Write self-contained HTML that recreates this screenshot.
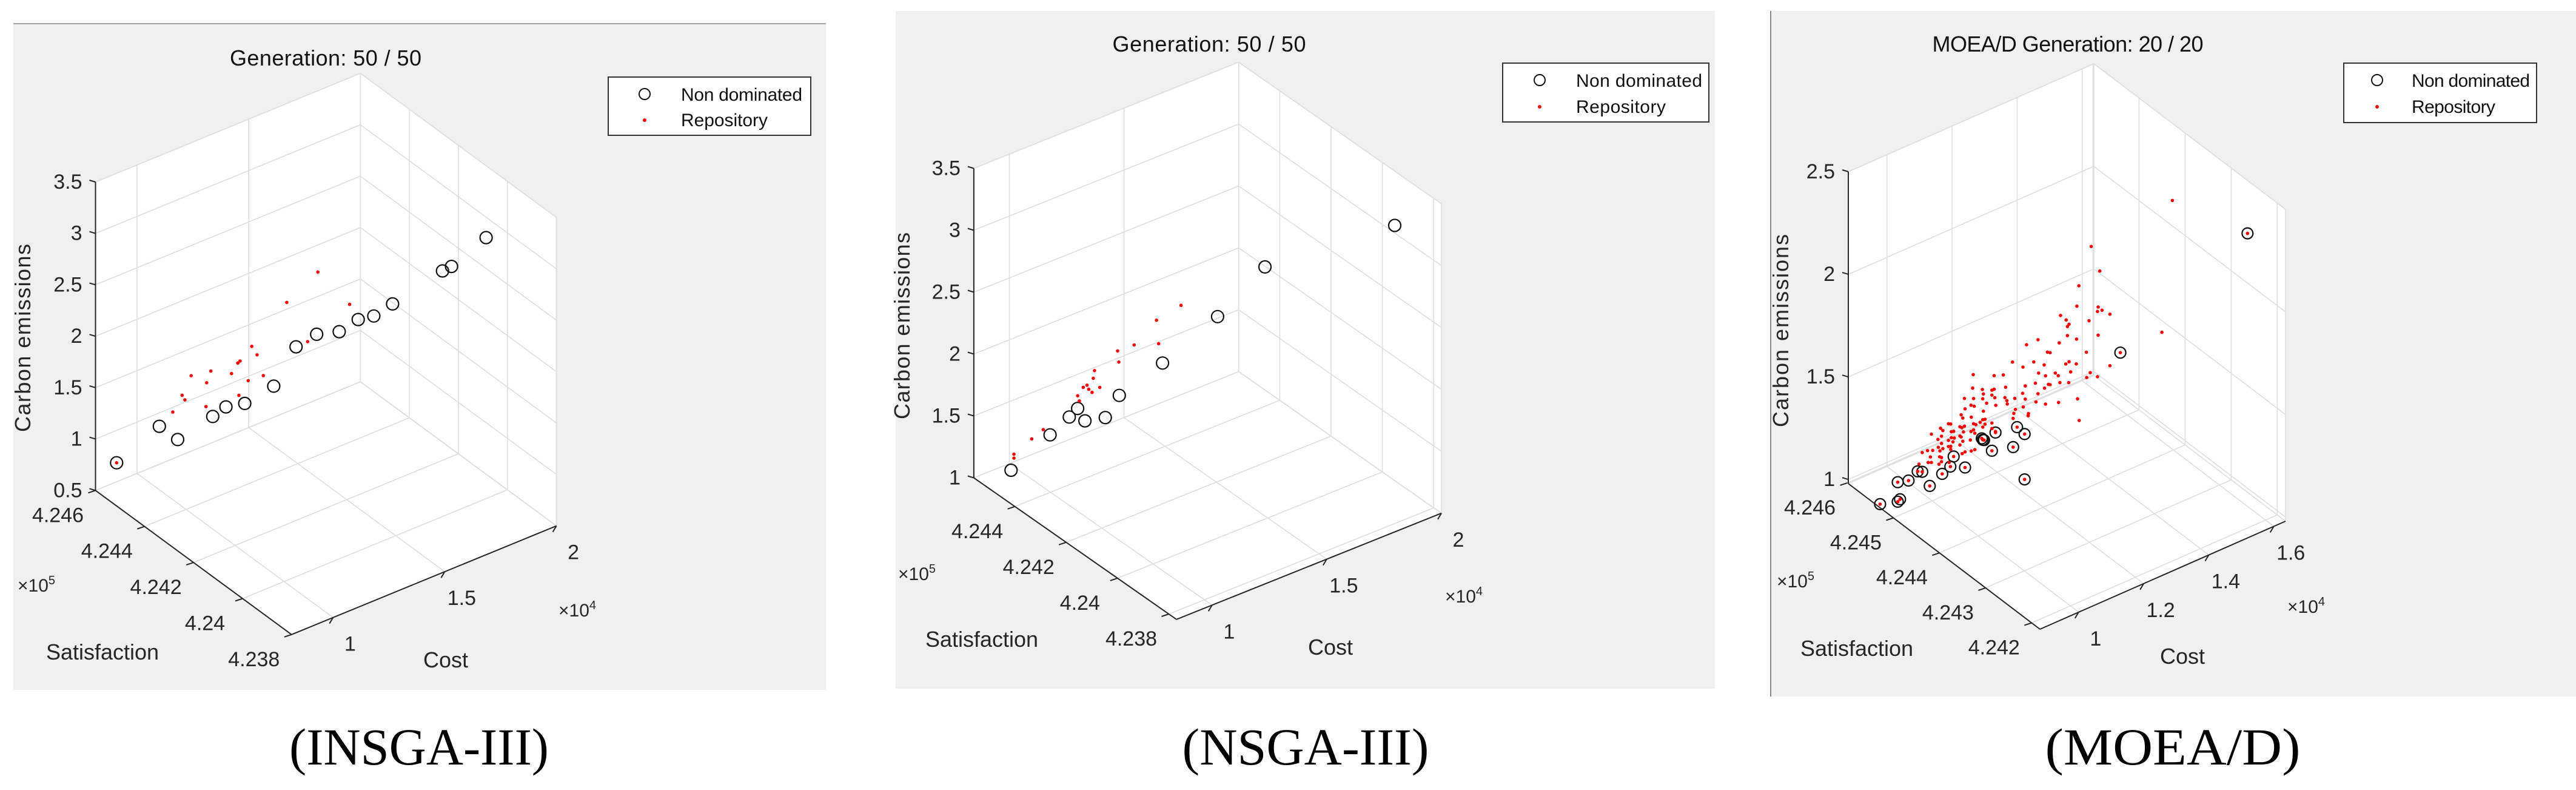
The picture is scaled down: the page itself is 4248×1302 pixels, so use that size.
<!DOCTYPE html>
<html><head><meta charset="utf-8"><style>
html,body{margin:0;padding:0;background:#fff;}
svg{display:block;font-family:"Liberation Sans",Arial,sans-serif;}
.cap{font-family:"Liberation Serif","Times New Roman",serif;}
</style></head><body>
<svg id="root" width="4248" height="1302" viewBox="0 0 4248 1302" xmlns="http://www.w3.org/2000/svg">
<rect x="0" y="0" width="4248" height="1302" fill="#fff"/>
<!-- panel 1 -->
<g>
<rect x="22" y="39" width="1340" height="1098" fill="#f0f0f0"/>
<line x1="22" y1="39" x2="1362" y2="39" stroke="#a0a0a0" stroke-width="2"/>
<text x="537" y="108" font-size="36" text-anchor="middle" textLength="316" fill="#111">Generation: 50 / 50</text>
<g id="plot1"></g>
<text transform="translate(50,557) rotate(-90)" font-size="36" text-anchor="middle" textLength="310" fill="#262626">Carbon emissions</text>
<text x="169" y="1087" font-size="36" text-anchor="middle" fill="#262626">Satisfaction</text>
<text x="735" y="1100" font-size="36" text-anchor="middle" fill="#262626">Cost</text>
<text x="60" y="975" font-size="30" text-anchor="middle" fill="#262626">×10<tspan font-size="20" dy="-12">5</tspan></text>
<text x="952" y="1016" font-size="30" text-anchor="middle" fill="#262626">×10<tspan font-size="20" dy="-12">4</tspan></text>
<g>
<rect x="1003" y="127" width="334" height="96" fill="#fff" stroke="#333" stroke-width="2"/>
<circle cx="1063" cy="155" r="9" fill="none" stroke="#111" stroke-width="2"/>
<circle cx="1063" cy="198" r="3" fill="#f00"/>
<text x="1123" y="166" font-size="30" textLength="200" fill="#111">Non dominated</text>
<text x="1123" y="208" font-size="30" textLength="143" fill="#111">Repository</text>
</g>
<text class="cap" x="691" y="1260" font-size="86" text-anchor="middle" textLength="428" lengthAdjust="spacingAndGlyphs" fill="#000">(INSGA-III)</text>
</g>
<!-- panel 2 -->
<g>
<rect x="1477" y="18" width="1351" height="1117" fill="#f0f0f0"/>
<text x="1994" y="85" font-size="36" text-anchor="middle" textLength="319" fill="#111">Generation: 50 / 50</text>
<g id="plot2"></g>
<text transform="translate(1500,537) rotate(-90)" font-size="36" text-anchor="middle" textLength="308" fill="#262626">Carbon emissions</text>
<text x="1619" y="1066" font-size="36" text-anchor="middle" fill="#262626">Satisfaction</text>
<text x="2194" y="1079" font-size="36" text-anchor="middle" fill="#262626">Cost</text>
<text x="1512" y="956" font-size="30" text-anchor="middle" fill="#262626">×10<tspan font-size="20" dy="-12">5</tspan></text>
<text x="2414" y="993" font-size="30" text-anchor="middle" fill="#262626">×10<tspan font-size="20" dy="-12">4</tspan></text>
<g>
<rect x="2478" y="104" width="340" height="97" fill="#fff" stroke="#333" stroke-width="2"/>
<circle cx="2539" cy="132" r="9" fill="none" stroke="#111" stroke-width="2"/>
<circle cx="2539" cy="176" r="3" fill="#f00"/>
<text x="2599" y="143" font-size="30" textLength="208" fill="#111">Non dominated</text>
<text x="2599" y="186" font-size="30" textLength="148" fill="#111">Repository</text>
</g>
<text class="cap" x="2153" y="1260" font-size="86" text-anchor="middle" textLength="407" lengthAdjust="spacingAndGlyphs" fill="#000">(NSGA-III)</text>
</g>
<!-- panel 3 -->
<g>
<rect x="2920" y="18" width="1328" height="1130" fill="#f0f0f0"/>
<line x1="2920" y1="18" x2="2920" y2="1148" stroke="#888" stroke-width="2"/>
<text x="3410" y="85" font-size="36" text-anchor="middle" textLength="447" fill="#111">MOEA/D Generation: 20 / 20</text>
<g id="plot3"></g>
<text transform="translate(2949,545) rotate(-90)" font-size="36" text-anchor="middle" textLength="318" fill="#262626">Carbon emissions</text>
<text x="3062" y="1081" font-size="36" text-anchor="middle" fill="#262626">Satisfaction</text>
<text x="3599" y="1094" font-size="36" text-anchor="middle" fill="#262626">Cost</text>
<text x="2961" y="968" font-size="30" text-anchor="middle" fill="#262626">×10<tspan font-size="20" dy="-12">5</tspan></text>
<text x="3803" y="1010" font-size="30" text-anchor="middle" fill="#262626">×10<tspan font-size="20" dy="-12">4</tspan></text>
<g>
<rect x="3865" y="104" width="318" height="98" fill="#fff" stroke="#333" stroke-width="2"/>
<circle cx="3920" cy="132" r="9" fill="none" stroke="#111" stroke-width="2"/>
<circle cx="3920" cy="176" r="3" fill="#f00"/>
<text x="3977" y="143" font-size="30" textLength="195" fill="#111">Non dominated</text>
<text x="3977" y="186" font-size="30" textLength="138" fill="#111">Repository</text>
</g>
<text class="cap" x="3583" y="1260" font-size="86" text-anchor="middle" textLength="421" lengthAdjust="spacingAndGlyphs" fill="#000">(MOEA/D)</text>
</g>
</svg>
<script>
// ---------- Panel 1 (INSGA-III) data ----------
const p1NdCost = [0.868,0.978,1.025,1.116,1.150,1.198,1.273,1.330,1.383,1.441,1.490,1.530,1.578,1.707,1.730,1.819];
const p1NdSat = [4.24563,4.24489,4.24457,4.24397,4.24374,4.24341,4.24291,4.24252,4.24216,4.24177,4.24144,4.24117,4.24084,4.23998,4.23982,4.23922];
const p1NdEm = [0.786,1.172,1.058,1.306,1.409,1.458,1.647,2.047,2.185,2.227,2.359,2.405,2.537,2.894,2.945,3.251];
const p1RpCost = [0.868,1.013,1.037,1.044,1.060,1.100,1.111,1.098,1.164,1.180,1.186,1.183,1.207,1.216,1.230,1.246,1.306,1.360,1.386,1.468];
const p1RpSat = [4.24563,4.24466,4.2445,4.24445,4.24434,4.24407,4.24400,4.24408,4.24364,4.24353,4.24349,4.24351,4.24335,4.24329,4.24320,4.24309,4.24268,4.24232,4.24214,4.24159];
const p1RpEm = [0.786,1.320,1.490,1.447,1.688,1.631,1.747,1.399,1.738,1.846,1.867,1.532,1.682,2.018,1.939,1.742,2.472,2.105,2.791,2.500];
const p1CostTicks = [1,1.5,2];
const p1CostLabels = ["1","1.5","2"];
const p1SatTicks = [4.238,4.240,4.242,4.244,4.246];
const p1SatLabels = ["4.238","4.24","4.242","4.244","4.246"];
const p1EmTicks = [0.5,1,1.5,2,2.5,3,3.5];
const p1EmLabels = ["0.5","1","1.5","2","2.5","3","3.5"];

// ---------- Panel 2 (NSGA-III) data ----------
const p2NdCost = [0.937,1.033,1.081,1.102,1.119,1.170,1.204,1.311,1.447,1.564,1.885];
const p2NdSat = [4.24497,4.24431,4.24399,4.24385,4.24372,4.24338,4.24314,4.24241,4.24148,4.24068,4.23849];
const p2NdEm = [1.084,1.394,1.549,1.623,1.529,1.567,1.755,2.043,2.452,2.882,3.296];
const p2RpCost = [0.944,0.944,0.988,1.017,1.102,1.106,1.115,1.125,1.140,1.137,1.143,1.156,1.200,1.203,1.241,1.296,1.302,1.357,1.129];
const p2RpSat = [4.24492,4.24492,4.24462,4.24443,4.24385,4.24382,4.24375,4.24369,4.24358,4.2436,4.24356,4.24347,4.24317,4.24315,4.24289,4.24251,4.24248,4.2421,4.24366];
const p2RpEm = [1.216,1.184,1.350,1.431,1.725,1.685,1.798,1.817,1.878,1.763,1.940,1.808,2.113,2.024,2.172,2.386,2.196,2.520,1.785];
const p2CostTicks = [1,1.5,2];
const p2CostLabels = ["1","1.5","2"];
const p2SatTicks = [4.238,4.240,4.242,4.244];
const p2SatLabels = ["4.238","4.24","4.242","4.244"];
const p2EmTicks = [1,1.5,2,2.5,3,3.5];
const p2EmLabels = ["1","1.5","2","2.5","3","3.5"];

// ---------- Panel 3 (MOEA/D) data ----------
const p3NdCost = [0.965,0.984,0.998,1.012,1.021,0.939,0.965,0.972,1.045,1.056,1.066,1.087,1.110,1.113,1.117,1.127,1.138,1.164,1.176,1.185,1.185,1.352,1.573];
const p3NdSat = [4.2455,4.2454,4.2453,4.2453,4.2452,4.2457,4.2455,4.2455,4.2451,4.2450,4.2450,4.2449,4.2447,4.2447,4.2447,4.2446,4.2446,4.2444,4.2444,4.2443,4.2443,4.2434,4.2422];
const p3NdEm = [1.010,1.022,1.074,1.062,1.004,0.887,0.915,0.922,1.063,1.108,1.150,1.099,1.259,1.250,1.246,1.204,1.285,1.230,1.319,1.296,1.075,1.730,2.362];
const p3RpCost = [
1.317,1.281,1.275,1.312,1.310,1.324,1.334,1.253,1.256,1.298,
1.265,1.260,1.260,1.274,1.312,1.249,1.191,1.212,1.290,1.227,
1.235,1.162,1.199,1.180,1.217,1.255,1.265,1.273,1.334,1.098,
1.134,1.148,1.214,1.221,1.237,1.246,1.270,1.291,1.302,1.310,
1.096,1.112,1.127,1.134,1.155,1.187,1.204,1.218,1.230,1.235,
1.251,1.264,1.179,1.212,1.115,1.127,1.085,1.099,1.113,1.136,
1.153,1.169,1.187,1.206,1.221,1.247,1.277,1.091,1.101,1.125,
1.139,1.159,1.160,1.181,1.115,1.087,1.171,1.166,1.164,1.197,
1.196,1.282,1.075,1.080,1.092,1.105,1.113,1.120,1.127,1.050,
1.057,1.071,1.077,1.085,1.099,1.106,1.113,1.120,1.040,1.047,
1.059,1.066,1.071,1.082,1.091,1.026,1.032,1.043,1.050,1.059,
1.068,1.075,1.089,1.103,1.127,1.033,1.043,1.050,1.057,1.064,
1.071,1.080,1.014,1.030,1.038,1.047,1.057,1.092,1.103,1.078,
1.087,1.012,1.023,1.037,1.043,1.016,1.026,1.035,1.043,1.002,
1.052,1.099,1.138,1.305,1.441,1.423];
const p3RpSat = [
4.2436,4.2438,4.2438,4.2436,4.2436,4.2436,4.2435,4.2440,4.2439,4.2437,
4.2439,4.2439,4.2439,4.2438,4.2436,4.2440,4.2443,4.2442,4.2437,4.2441,
4.2441,4.2444,4.2442,4.2443,4.2441,4.2439,4.2439,4.2438,4.2435,4.2448,
4.2446,4.2445,4.2442,4.2441,4.2440,4.2440,4.2439,4.2437,4.2437,4.2436,
4.2448,4.2447,4.2446,4.2446,4.2445,4.2443,4.2442,4.2441,4.2441,4.2441,
4.2440,4.2439,4.2443,4.2442,4.2447,4.2446,4.2449,4.2448,4.2447,4.2446,
4.2445,4.2444,4.2443,4.2442,4.2441,4.2440,4.2438,4.2448,4.2448,4.2447,
4.2446,4.2445,4.2445,4.2443,4.2447,4.2449,4.2444,4.2444,4.2444,4.2443,
4.2443,4.2438,4.2449,4.2449,4.2448,4.2447,4.2447,4.2447,4.2446,4.2450,
4.2450,4.2449,4.2449,4.2449,4.2448,4.2448,4.2447,4.2447,4.2451,4.2451,
4.2450,4.2450,4.2449,4.2449,4.2448,4.2452,4.2451,4.2451,4.2450,4.2450,
4.2450,4.2449,4.2448,4.2448,4.2446,4.2451,4.2451,4.2450,4.2450,4.2450,
4.2449,4.2449,4.2452,4.2452,4.2451,4.2451,4.2450,4.2448,4.2448,4.2449,
4.2449,4.2453,4.2452,4.2451,4.2451,4.2452,4.2452,4.2451,4.2451,4.2453,
4.2450,4.2448,4.2446,4.2437,4.2429,4.2430];
const p3RpEm = [
2.118,2.037,1.942,1.946,1.926,1.922,1.913,1.878,1.871,1.872,
1.844,1.836,1.792,1.782,1.809,1.747,1.727,1.754,1.724,1.700,
1.692,1.646,1.655,1.626,1.645,1.657,1.661,1.662,1.662,1.561,
1.565,1.576,1.590,1.589,1.608,1.589,1.608,1.600,1.616,1.608,
1.497,1.496,1.499,1.499,1.511,1.529,1.548,1.531,1.541,1.536,
1.552,1.560,1.499,1.491,1.472,1.475,1.437,1.444,1.450,1.456,
1.462,1.464,1.465,1.455,1.451,1.458,1.489,1.417,1.405,1.420,
1.417,1.443,1.426,1.431,1.388,1.385,1.409,1.393,1.370,1.388,
1.378,1.380,1.364,1.345,1.358,1.341,1.348,1.345,1.339,1.321,
1.315,1.309,1.300,1.302,1.321,1.312,1.312,1.321,1.289,1.273,
1.276,1.273,1.264,1.276,1.289,1.253,1.240,1.248,1.240,1.247,
1.239,1.256,1.249,1.272,1.312,1.201,1.213,1.210,1.206,1.223,
1.220,1.232,1.181,1.171,1.180,1.185,1.191,1.193,1.192,1.173,
1.175,1.156,1.144,1.152,1.144,1.122,1.115,1.117,1.124,1.107,
1.131,1.291,1.290,2.229,2.495,1.848];
const p3CostTicks = [1,1.2,1.4,1.6];
const p3CostLabels = ["1","1.2","1.4","1.6"];
const p3SatTicks = [4.242,4.243,4.244,4.245,4.246];
const p3SatLabels = ["4.242","4.243","4.244","4.245","4.246"];
const p3EmTicks = [1,1.5,2,2.5];
const p3EmLabels = ["1","1.5","2","2.5"];

const NS = "http://www.w3.org/2000/svg";
function el(tag, parent, attrs){
  const e = document.createElementNS(NS, tag);
  for (const k in attrs) e.setAttribute(k, attrs[k]);
  parent.appendChild(e);
  return e;
}

function drawPanel(gid, cfg, ndC, ndS, ndE, rpC, rpS, rpE, cT, cL, sT, sL, zT, zL, ndDots){
  const g = document.getElementById(gid);
  const Ex = [cfg.right[0]-cfg.front[0], cfg.right[1]-cfg.front[1]];
  const Ey = [cfg.left[0]-cfg.front[0], cfg.left[1]-cfg.front[1]];
  function P(c, s, z){
    const cn = (c-cfg.c0)/(cfg.c1-cfg.c0);
    const sn = (s-cfg.s0)/(cfg.s1-cfg.s0);
    const zn = (z-cfg.z0)/(cfg.z1-cfg.z0);
    const x = cfg.front[0] + cn*Ex[0] + sn*Ey[0];
    const y = cfg.front[1] + cn*Ex[1] + sn*Ey[1] - zn*cfg.H;
    return [cfg.ox + x*cfg.kx, y*cfg.ky];
  }
  function seg(a, b, col, w, name){
    const l = el('line', g, {x1:a[0].toFixed(1), y1:a[1].toFixed(1), x2:b[0].toFixed(1), y2:b[1].toFixed(1), stroke:col, 'stroke-width':w});
    
    
    return l;
  }
  const c0=cfg.c0,c1=cfg.c1,s0=cfg.s0,s1=cfg.s1,z0=cfg.z0,z1=cfg.z1;
  const pts = [P(c0,s1,z0),P(c0,s1,z1),P(c1,s1,z1),P(c1,s0,z1),P(c1,s0,z0),P(c0,s0,z0)];
  const wall = el('polygon', g, {points: pts.map(p=>p[0].toFixed(1)+','+p[1].toFixed(1)).join(' '), fill:'#fff'});
  
  
  const GC = '#dedede', GW = 1.6;
  cT.forEach(v=>{
    seg(P(v,s1,z0),P(v,s1,z1),GC,GW,'grid-line-cost-wall');
    seg(P(v,s0,z0),P(v,s1,z0),GC,GW,'grid-line-cost-floor');
  });
  sT.forEach(v=>{
    seg(P(c1,v,z0),P(c1,v,z1),GC,GW,'grid-line-satisfaction-wall');
    seg(P(c0,v,z0),P(c1,v,z0),GC,GW,'grid-line-satisfaction-floor');
  });
  zT.forEach(v=>{
    seg(P(c0,s1,v),P(c1,s1,v),GC,GW,'grid-line-emission-left');
    seg(P(c1,s1,v),P(c1,s0,v),GC,GW,'grid-line-emission-right');
  });
  seg(P(c0,s1,z1),P(c1,s1,z1),GC,GW,'box-edge');
  seg(P(c1,s1,z1),P(c1,s0,z1),GC,GW,'box-edge');
  seg(P(c1,s1,z0),P(c1,s1,z1),GC,GW,'box-edge');
  seg(P(c1,s0,z0),P(c1,s0,z1),GC,GW,'box-edge');
  seg(P(c0,s1,z0),P(c1,s1,z0),GC,GW,'box-edge');
  seg(P(c1,s1,z0),P(c1,s0,z0),GC,GW,'box-edge');
  const AC = '#262626';
  seg(P(c0,s1,z0),P(c0,s1,z1),AC,2,'z-axis-line');
  seg(P(c0,s1,z0),P(c0,s0,z0),AC,2,'satisfaction-axis-line');
  seg(P(c0,s0,z0),P(c1,s0,z0),AC,2,'cost-axis-line');
  zT.forEach((v,i)=>{
    const p = P(c0,s1,v);
    seg(p,[p[0]-10,p[1]-3],AC,2,'z-tick');
    const t = el('text', g, {x:(p[0]-22).toFixed(1), y:(p[1]+11).toFixed(1), 'font-size':34, 'text-anchor':'end', fill:AC});
    t.textContent = zL[i];
    
    
  });
  sT.forEach((v,i)=>{
    const p = P(c0,v,z0);
    seg(p,[p[0]-12,p[1]+4],AC,2,'satisfaction-tick');
    const t = el('text', g, {x:(p[0]-62).toFixed(1), y:(p[1]+52).toFixed(1), 'font-size':34, 'text-anchor':'middle', fill:AC});
    t.textContent = sL[i];
    
    
  });
  cT.forEach((v,i)=>{
    const p = P(v,s0,z0);
    seg(p,[p[0]-6,p[1]+10],AC,2,'cost-tick');
    const t = el('text', g, {x:(p[0]+28).toFixed(1), y:(p[1]+55).toFixed(1), 'font-size':34, 'text-anchor':'middle', fill:AC});
    t.textContent = cL[i];
    
    
  });
  ndC.forEach((v,i)=>{
    const p = P(v, ndS[i], ndE[i]);
    const c = el('circle', g, {cx:p[0].toFixed(1), cy:p[1].toFixed(1), r:cfg.r, fill:'none', stroke:'#111', 'stroke-width':2.2});
    
    
  });
  rpC.forEach((v,i)=>{
    const p = P(v, rpS[i], rpE[i]);
    const c = el('circle', g, {cx:p[0].toFixed(1), cy:p[1].toFixed(1), r:2.8, fill:'#ff0000'});
    
    
  });
  if (ndDots){
    ndC.forEach((v,i)=>{
      const p = P(v, ndS[i], ndE[i]);
      const c = el('circle', g, {cx:p[0].toFixed(1), cy:p[1].toFixed(1), r:2.8, fill:'#ff0000'});
      
      
    });
  }
}

drawPanel('plot1', {front:[525,1255], right:[1002,1040], left:[172,970], H:610, c0:0.814, c1:2.0, s0:4.238, s1:4.246, z0:0.5, z1:3.5, kx:1/1.092, ky:1/1.2, ox:0, r:10},
  p1NdCost,p1NdSat,p1NdEm,p1RpCost,p1RpSat,p1RpEm,p1CostTicks,p1CostLabels,p1SatTicks,p1SatLabels,p1EmTicks,p1EmLabels,false);
drawPanel('plot2', {front:[568,1225], right:[1045,1015], left:[203,945], H:612, c0:0.845, c1:2.0, s0:4.2377, s1:4.2456, z0:1, z1:3.5, kx:1/1.092, ky:1/1.2, ox:1420, r:10},
  p2NdCost,p2NdSat,p2NdEm,p2RpCost,p2RpSat,p2RpEm,p2CostTicks,p2CostLabels,p2SatTicks,p2SatLabels,p2EmTicks,p2EmLabels,false);
drawPanel('plot3', {front:[536,1037], right:[941,859], left:[220,797], H:514, c0:0.881, c1:1.636, s0:4.24182, s1:4.24598, z0:0.98, z1:2.5, kx:1, ky:1, ox:2828, r:9},
  p3NdCost,p3NdSat,p3NdEm,p3RpCost,p3RpSat,p3RpEm,p3CostTicks,p3CostLabels,p3SatTicks,p3SatLabels,p3EmTicks,p3EmLabels,true);
</script>
</body></html>
